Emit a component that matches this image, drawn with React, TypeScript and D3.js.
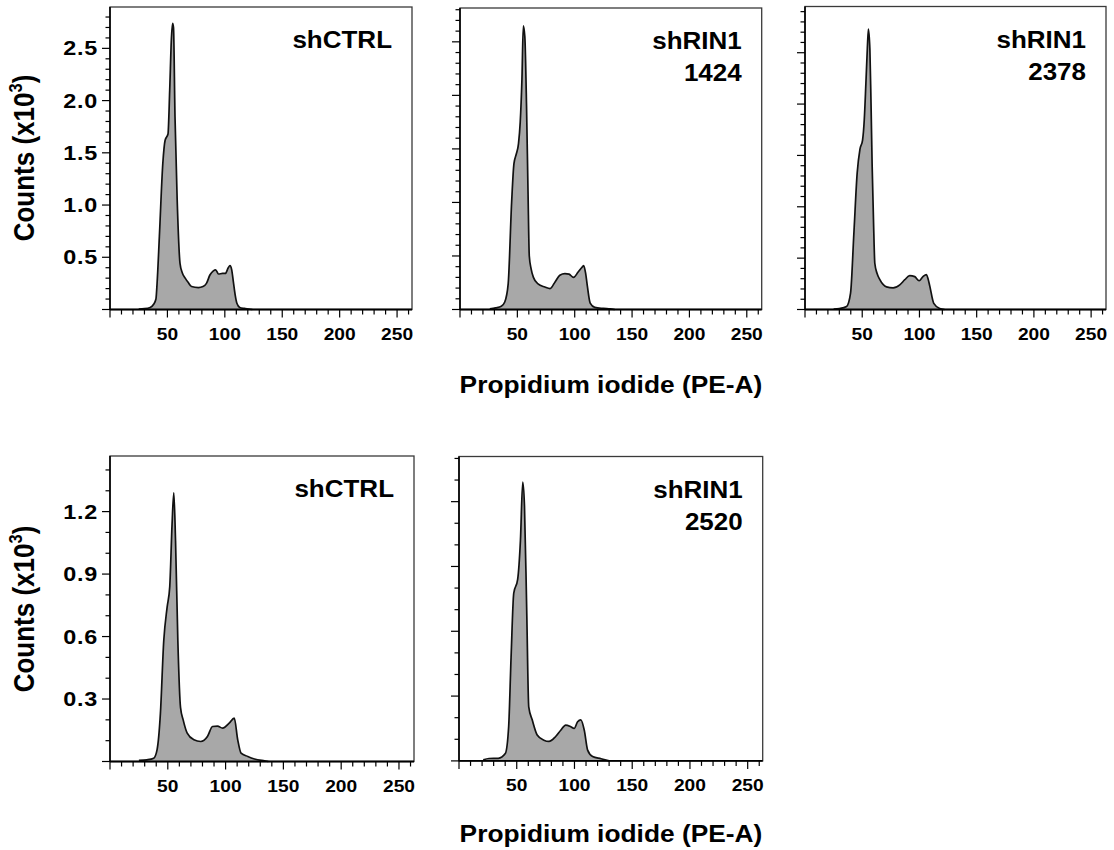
import React from 'react';
import * as d3 from 'd3';

// ---------- data ----------
const X_MAX = 263;
const xMajorTicks = [50, 100, 150, 200, 250];
const topYLabels = [0.5, 1.0, 1.5, 2.0, 2.5];
const bottomYLabels = [0.3, 0.6, 0.9, 1.2];
const xTitle = 'Propidium iodide (PE-A)';

// counts in thousands
const ctrlTopChannel = [25, 30, 35, 38, 40, 41, 43, 46, 48, 50.5, 52, 53.5, 54.5, 55.3, 56.6, 58.5, 61, 63, 65.5, 68, 71, 77, 81, 84, 87, 90, 92, 94.5, 98, 100.5, 103, 104.5, 106, 107.5, 109, 110.5, 113, 117, 121, 124];
const ctrlTopCounts = [0.005, 0.008, 0.02, 0.05, 0.1, 0.25, 0.7, 1.4, 1.62, 1.68, 2.1, 2.6, 2.74, 2.7, 1.85, 1.05, 0.44, 0.35, 0.3, 0.26, 0.22, 0.21, 0.22, 0.25, 0.33, 0.37, 0.38, 0.34, 0.345, 0.345, 0.4, 0.42, 0.38, 0.26, 0.14, 0.06, 0.02, 0.01, 0.005, 0];

const rin1424Channel = [26, 31, 36, 39, 42, 45, 47, 49, 51, 52.5, 54, 55.2, 56.5, 58, 59.3, 60.4, 62, 64, 68, 74, 78.5, 83, 87, 91.5, 95, 99, 103, 106, 107.8, 109.5, 111, 113.5, 117.5, 125, 131, 135];
const rin1424Counts = [0.005, 0.015, 0.03, 0.07, 0.24, 1.0, 1.36, 1.45, 1.55, 1.75, 2.15, 2.65, 2.55, 1.9, 1.1, 0.5, 0.38, 0.3, 0.24, 0.21, 0.195, 0.26, 0.32, 0.335, 0.33, 0.3, 0.35, 0.39, 0.41, 0.34, 0.22, 0.06, 0.02, 0.01, 0.005, 0];

const rin2378Channel = [25, 30, 36.3, 39.8, 42.7, 45.6, 48, 50.3, 51.8, 53.2, 54.5, 55.4, 56.7, 57.7, 58.7, 60, 61, 63, 65.4, 71.2, 77, 82.8, 87.2, 91.5, 95.9, 99.7, 103.1, 106.1, 107.5, 109, 112.5, 117.7, 122];
const rin2378Counts = [0.005, 0.01, 0.03, 0.16, 0.74, 1.33, 1.56, 1.65, 1.85, 2.2, 2.55, 2.73, 2.53, 2.0, 1.39, 0.8, 0.45, 0.35, 0.29, 0.22, 0.21, 0.24, 0.29, 0.33, 0.32, 0.28, 0.32, 0.34, 0.3, 0.23, 0.06, 0.01, 0];

const ctrlBottomChannel = [25, 32, 37.8, 40.7, 43.6, 46.5, 49.4, 51.7, 53.7, 55.2, 56.7, 58.7, 61, 63.3, 66.8, 72.6, 78.5, 84.3, 88.7, 93, 97.4, 103.1, 107.5, 110.5, 113.4, 119.2, 125, 133.7, 137];
const ctrlBottomCounts = [0.005, 0.008, 0.016, 0.056, 0.23, 0.58, 0.74, 0.84, 1.14, 1.29, 1.06, 0.58, 0.26, 0.2, 0.136, 0.104, 0.096, 0.12, 0.168, 0.17, 0.16, 0.184, 0.208, 0.104, 0.04, 0.024, 0.012, 0.003, 0];

const rin2520Channel = [21, 26, 34, 40.1, 43, 45.1, 47.4, 50.8, 53.2, 55.2, 56.7, 58.6, 60.4, 63.4, 67.7, 73.5, 77.9, 83.7, 88.1, 92.4, 96.8, 99.7, 102.7, 105.5, 108.5, 111.4, 115.7, 123, 130];
const rin2520Counts = [0.005, 0.011, 0.012, 0.034, 0.158, 0.48, 0.776, 0.84, 1.02, 1.29, 1.18, 0.71, 0.25, 0.19, 0.12, 0.096, 0.09, 0.113, 0.142, 0.166, 0.158, 0.15, 0.181, 0.19, 0.142, 0.05, 0.02, 0.01, 0];

// ---------- layout ----------
type Box = { l: number; t: number; r: number; b: number };
type PanelDef = {
  key: string;
  lines: string[];
  channel: number[];
  counts: number[];
  box: Box;
  yMax: number;
  major: number;
  yLabels: number[] | null;
};

const panels: PanelDef[] = [
  { key: 'p1', lines: ['shCTRL'], channel: ctrlTopChannel, counts: ctrlTopCounts, box: { l: 110, t: 7, r: 412, b: 309.5 }, yMax: 2.896, major: 0.5, yLabels: topYLabels },
  { key: 'p2', lines: ['shRIN1', '1424'], channel: rin1424Channel, counts: rin1424Counts, box: { l: 460, t: 8, r: 761.7, b: 309.5 }, yMax: 2.816, major: 0.5, yLabels: null },
  { key: 'p3', lines: ['shRIN1', '2378'], channel: rin2378Channel, counts: rin2378Counts, box: { l: 805, t: 6.5, r: 1106, b: 309.5 }, yMax: 2.95, major: 0.5, yLabels: null },
  { key: 'p4', lines: ['shCTRL'], channel: ctrlBottomChannel, counts: ctrlBottomCounts, box: { l: 110, t: 456, r: 414, b: 761.5 }, yMax: 1.467, major: 0.3, yLabels: bottomYLabels },
  { key: 'p5', lines: ['shRIN1', '2520'], channel: rin2520Channel, counts: rin2520Counts, box: { l: 459, t: 456.5, r: 762.7, b: 760.9 }, yMax: 1.409, major: 0.3, yLabels: null },
];

const SX = 1.13;
const FONT = "'Liberation Sans', Arial, Helvetica, sans-serif";

function T(props: { x: number; y: number; size: number; anchor?: string; sx?: number; spacing?: number; children: React.ReactNode }) {
  const { x, y, size, anchor = 'start', sx = SX, spacing, children } = props;
  return (
    <text
      transform={`translate(${x},${y}) scale(${sx},1)`}
      textAnchor={anchor as any}
      fontSize={size}
      fontWeight="bold"
      fontFamily={FONT}
      fill="#000"
      letterSpacing={spacing}
    >
      {children}
    </text>
  );
}

function Panel({ p }: { p: PanelDef }) {
  const { l, t, r, b } = p.box;
  const x = d3.scaleLinear().domain([0, X_MAX]).range([l, r]);
  const y = d3.scaleLinear().domain([0, p.yMax]).range([b, t]);
  const data: [number, number][] = p.channel.map((c, i) => [c, p.counts[i]]);
  const area = d3
    .area<[number, number]>()
    .x((d) => x(d[0]))
    .y0(y(0))
    .y1((d) => y(d[1]))
    .curve(d3.curveMonotoneX);
  const line = d3
    .line<[number, number]>()
    .x((d) => x(d[0]))
    .y((d) => y(d[1]))
    .curve(d3.curveMonotoneX);

  const yTicks = d3.range(0, Math.round(p.yMax * 10) + 1).map((i) => i / 10).filter((v) => v <= p.yMax + 1e-9);
  const isMajorY = (v: number) => Math.abs(v / p.major - Math.round(v / p.major)) < 1e-6;
  const xTicks = d3.range(0, X_MAX + 1, 10);

  return (
    <g>
      <rect x={l} y={t} width={r - l} height={b - t} fill="#fff" stroke="#3a3a3a" strokeWidth={1.3} />
      <path d={area(data) || ''} fill="#a8a8a8" stroke="none" />
      <path d={line(data) || ''} fill="none" stroke="#111" strokeWidth={1.7} strokeLinejoin="round" />
      <line x1={l} x2={l} y1={t} y2={b} stroke="#000" strokeWidth={1.6} />
      <line x1={l} x2={r} y1={b} y2={b} stroke="#000" strokeWidth={1.8} />
      {yTicks.map((v) => (
        <line key={'y' + v} x1={l - (isMajorY(v) ? 8 : 4.5)} x2={l} y1={y(v)} y2={y(v)} stroke="#000" strokeWidth={1.2} />
      ))}
      {xTicks.map((v) => (
        <line key={'x' + v} x1={x(v)} x2={x(v)} y1={b} y2={b + (v % 50 === 0 ? 8 : 5)} stroke="#000" strokeWidth={1.2} />
      ))}
      {xMajorTicks.map((v) => (
        <T key={'xl' + v} x={x(v)} y={b + 30} size={17} anchor="middle">
          {String(v)}
        </T>
      ))}
      {p.yLabels &&
        p.yLabels.map((v) => (
          <T key={'yl' + v} x={l - 12} y={y(v) + 7} size={19.5} anchor="end" sx={1.2} spacing={0.6}>
            {d3.format('.1f')(v)}
          </T>
        ))}
      {p.lines.map((s, i) => (
        <T key={'n' + i} x={r - 20} y={t + 41 + i * 32} size={23} anchor="end">
          {s}
        </T>
      ))}
    </g>
  );
}

function YTitle({ cy }: { cy: number }) {
  return (
    <text
      transform={`translate(34,${cy}) scale(${SX},1) rotate(-90)`}
      textAnchor="middle"
      fontSize={26}
      fontWeight="bold"
      fontFamily={FONT}
      fill="#000"
    >
      <tspan>Counts (x10</tspan>
      <tspan fontSize={16.5} dy={-10.5}>3</tspan>
      <tspan dy={10.5}>)</tspan>
    </text>
  );
}

export default function App() {
  return (
    <>
      <style>{`html,body{margin:0;padding:0;overflow:hidden;background:#fff}`}</style>
      <svg width={1114} height={850} style={{ display: 'block' }}>
        <rect x={0} y={0} width={1114} height={850} fill="#fff" />
        {panels.map((p) => (
          <Panel key={p.key} p={p} />
        ))}
        <YTitle cy={158} />
        <YTitle cy={609} />
        <T x={611} y={393} size={23.3} anchor="middle">{xTitle}</T>
        <T x={611} y={842} size={23.3} anchor="middle">{xTitle}</T>
      </svg>
    </>
  );
}
